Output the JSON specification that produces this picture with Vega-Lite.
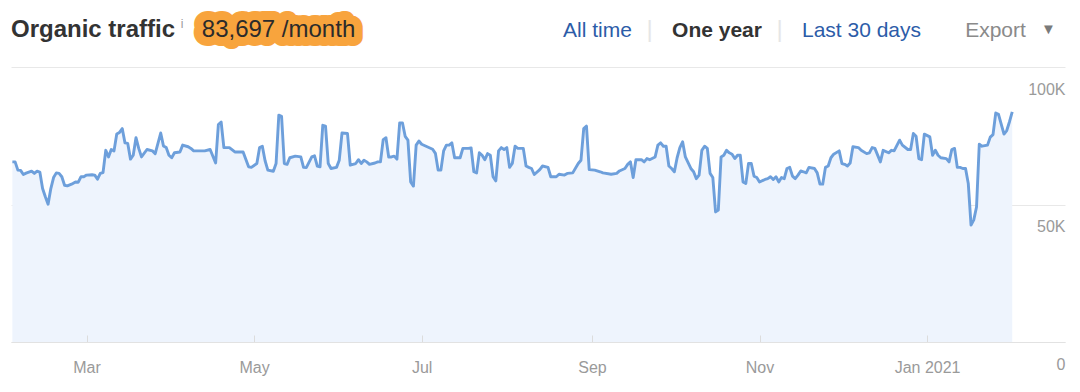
{
  "$schema": "https://vega.github.io/schema/vega-lite/v6.json",
  "padding": {"left": 10, "top": 6, "right": 14, "bottom": 4},
  "background": "white",
  "config": {"view": {"stroke": null}, "font": "Liberation Sans"},
  "spacing": 0,
  "datasets": {
    "header": [
      {"item": "title", "text": "Organic traffic"},
      {"item": "info", "text": "i"},
      {"item": "value", "text": "83,697 /month"},
      {"item": "all", "text": "All time"},
      {"item": "sep", "text": "|"},
      {"item": "year", "text": "One year"},
      {"item": "last", "text": "Last 30 days"},
      {"item": "export", "text": "Export"},
      {"item": "arrow", "text": "▼"}
    ],
    "traffic": [
      {"date":"2020-02-03","visits":65500},{"date":"2020-02-04","visits":65500},{"date":"2020-02-05","visits":62500},{"date":"2020-02-06","visits":62400},{"date":"2020-02-07","visits":60900},{"date":"2020-02-08","visits":61400},{"date":"2020-02-10","visits":62100},{"date":"2020-02-11","visits":61300},{"date":"2020-02-12","visits":62100},{"date":"2020-02-13","visits":61800},{"date":"2020-02-14","visits":55800},{"date":"2020-02-15","visits":52800},{"date":"2020-02-16","visits":50100},{"date":"2020-02-17","visits":55800},{"date":"2020-02-18","visits":59800},{"date":"2020-02-19","visits":61500},{"date":"2020-02-20","visits":61300},{"date":"2020-02-21","visits":60100},{"date":"2020-02-22","visits":57000},{"date":"2020-02-23","visits":56800},{"date":"2020-02-25","visits":57600},{"date":"2020-02-26","visits":58200},{"date":"2020-02-27","visits":58100},{"date":"2020-02-28","visits":60100},{"date":"2020-02-29","visits":60100},
      {"date":"2020-03-01","visits":60700},{"date":"2020-03-03","visits":60800},{"date":"2020-03-04","visits":60700},{"date":"2020-03-05","visits":59200},{"date":"2020-03-06","visits":61300},{"date":"2020-03-07","visits":61600},{"date":"2020-03-08","visits":69700},{"date":"2020-03-09","visits":67300},{"date":"2020-03-10","visits":70000},{"date":"2020-03-11","visits":69500},{"date":"2020-03-12","visits":75600},{"date":"2020-03-13","visits":76200},{"date":"2020-03-14","visits":77600},{"date":"2020-03-15","visits":72400},{"date":"2020-03-16","visits":72200},{"date":"2020-03-17","visits":66500},{"date":"2020-03-18","visits":67900},{"date":"2020-03-19","visits":74300},{"date":"2020-03-20","visits":70400},{"date":"2020-03-21","visits":67300},{"date":"2020-03-23","visits":70000},{"date":"2020-03-25","visits":69500},{"date":"2020-03-26","visits":68500},{"date":"2020-03-28","visits":76000},{"date":"2020-03-29","visits":71300},{"date":"2020-03-30","visits":70700},{"date":"2020-03-31","visits":67900},
      {"date":"2020-04-01","visits":67000},{"date":"2020-04-02","visits":68800},{"date":"2020-04-04","visits":69100},{"date":"2020-04-05","visits":71600},{"date":"2020-04-07","visits":71000},{"date":"2020-04-08","visits":70400},{"date":"2020-04-09","visits":69500},{"date":"2020-04-11","visits":69500},{"date":"2020-04-13","visits":69500},{"date":"2020-04-15","visits":70000},{"date":"2020-04-17","visits":65100},{"date":"2020-04-18","visits":79100},{"date":"2020-04-19","visits":80000},{"date":"2020-04-20","visits":70700},{"date":"2020-04-22","visits":70700},{"date":"2020-04-24","visits":69100},{"date":"2020-04-27","visits":69100},{"date":"2020-04-29","visits":63700},{"date":"2020-04-30","visits":63500},
      {"date":"2020-05-02","visits":64900},{"date":"2020-05-03","visits":70700},{"date":"2020-05-04","visits":71200},{"date":"2020-05-05","visits":65900},{"date":"2020-05-06","visits":62500},{"date":"2020-05-08","visits":62100},{"date":"2020-05-09","visits":64900},{"date":"2020-05-10","visits":82500},{"date":"2020-05-11","visits":82100},{"date":"2020-05-12","visits":64900},{"date":"2020-05-13","visits":64600},{"date":"2020-05-14","visits":67000},{"date":"2020-05-16","visits":67600},{"date":"2020-05-18","visits":67300},{"date":"2020-05-19","visits":63500},{"date":"2020-05-20","visits":63400},{"date":"2020-05-22","visits":67300},{"date":"2020-05-23","visits":67700},{"date":"2020-05-24","visits":64000},{"date":"2020-05-25","visits":63700},{"date":"2020-05-26","visits":78800},{"date":"2020-05-27","visits":78500},{"date":"2020-05-28","visits":64900},{"date":"2020-05-29","visits":63100},{"date":"2020-05-31","visits":63500},
      {"date":"2020-06-01","visits":66100},{"date":"2020-06-02","visits":76000},{"date":"2020-06-04","visits":75800},{"date":"2020-06-05","visits":64300},{"date":"2020-06-07","visits":64900},{"date":"2020-06-08","visits":66300},{"date":"2020-06-09","visits":64900},{"date":"2020-06-10","visits":66100},{"date":"2020-06-11","visits":65500},{"date":"2020-06-12","visits":64600},{"date":"2020-06-14","visits":65100},{"date":"2020-06-15","visits":65500},{"date":"2020-06-16","visits":65500},{"date":"2020-06-17","visits":73600},{"date":"2020-06-18","visits":74300},{"date":"2020-06-19","visits":67300},{"date":"2020-06-20","visits":67300},{"date":"2020-06-21","visits":67600},{"date":"2020-06-22","visits":66500},{"date":"2020-06-23","visits":79700},{"date":"2020-06-24","visits":79700},{"date":"2020-06-25","visits":74800},{"date":"2020-06-26","visits":73400},{"date":"2020-06-27","visits":58200},{"date":"2020-06-28","visits":56700},{"date":"2020-06-29","visits":71600},{"date":"2020-06-30","visits":73100},
      {"date":"2020-07-01","visits":71900},{"date":"2020-07-03","visits":71000},{"date":"2020-07-05","visits":70100},{"date":"2020-07-06","visits":68600},{"date":"2020-07-07","visits":62500},{"date":"2020-07-08","visits":62500},{"date":"2020-07-09","visits":69500},{"date":"2020-07-10","visits":71600},{"date":"2020-07-11","visits":71600},{"date":"2020-07-12","visits":72400},{"date":"2020-07-13","visits":67000},{"date":"2020-07-15","visits":67000},{"date":"2020-07-16","visits":70400},{"date":"2020-07-18","visits":70400},{"date":"2020-07-19","visits":70600},{"date":"2020-07-20","visits":61900},{"date":"2020-07-21","visits":61500},{"date":"2020-07-22","visits":68800},{"date":"2020-07-23","visits":67900},{"date":"2020-07-24","visits":66300},{"date":"2020-07-25","visits":68500},{"date":"2020-07-26","visits":67900},{"date":"2020-07-27","visits":60100},{"date":"2020-07-28","visits":58600},{"date":"2020-07-29","visits":69500},{"date":"2020-07-30","visits":70700},{"date":"2020-07-31","visits":70000},
      {"date":"2020-08-01","visits":70700},{"date":"2020-08-02","visits":63500},{"date":"2020-08-03","visits":64900},{"date":"2020-08-04","visits":71200},{"date":"2020-08-05","visits":70400},{"date":"2020-08-07","visits":70400},{"date":"2020-08-08","visits":64000},{"date":"2020-08-09","visits":63500},{"date":"2020-08-10","visits":63100},{"date":"2020-08-11","visits":60900},{"date":"2020-08-13","visits":62700},{"date":"2020-08-14","visits":64000},{"date":"2020-08-16","visits":63500},{"date":"2020-08-17","visits":60100},{"date":"2020-08-19","visits":60100},{"date":"2020-08-20","visits":61000},{"date":"2020-08-22","visits":60700},{"date":"2020-08-23","visits":61300},{"date":"2020-08-25","visits":61500},{"date":"2020-08-27","visits":64900},{"date":"2020-08-28","visits":66100},{"date":"2020-08-29","visits":77600},{"date":"2020-08-30","visits":78500},{"date":"2020-08-31","visits":62700},
      {"date":"2020-09-02","visits":62500},{"date":"2020-09-04","visits":61900},{"date":"2020-09-05","visits":61500},{"date":"2020-09-08","visits":61000},{"date":"2020-09-10","visits":61300},{"date":"2020-09-11","visits":62200},{"date":"2020-09-13","visits":63100},{"date":"2020-09-14","visits":64600},{"date":"2020-09-15","visits":65500},{"date":"2020-09-16","visits":59800},{"date":"2020-09-17","visits":66300},{"date":"2020-09-19","visits":66300},{"date":"2020-09-20","visits":65500},{"date":"2020-09-21","visits":66700},{"date":"2020-09-22","visits":66300},{"date":"2020-09-24","visits":67300},{"date":"2020-09-25","visits":71600},{"date":"2020-09-26","visits":72400},{"date":"2020-09-27","visits":71200},{"date":"2020-09-28","visits":71200},{"date":"2020-09-29","visits":64000},{"date":"2020-09-30","visits":63100},
      {"date":"2020-10-01","visits":61900},{"date":"2020-10-02","visits":67000},{"date":"2020-10-03","visits":70700},{"date":"2020-10-04","visits":72800},{"date":"2020-10-05","visits":67300},{"date":"2020-10-07","visits":63100},{"date":"2020-10-08","visits":61900},{"date":"2020-10-09","visits":59400},{"date":"2020-10-10","visits":60700},{"date":"2020-10-11","visits":69700},{"date":"2020-10-12","visits":71200},{"date":"2020-10-13","visits":70400},{"date":"2020-10-14","visits":61300},{"date":"2020-10-15","visits":59800},{"date":"2020-10-16","visits":47300},{"date":"2020-10-17","visits":48000},{"date":"2020-10-18","visits":67300},{"date":"2020-10-19","visits":67900},{"date":"2020-10-20","visits":69700},{"date":"2020-10-21","visits":68800},{"date":"2020-10-22","visits":68300},{"date":"2020-10-23","visits":66700},{"date":"2020-10-24","visits":67900},{"date":"2020-10-25","visits":67900},{"date":"2020-10-26","visits":58200},{"date":"2020-10-27","visits":57600},{"date":"2020-10-28","visits":64900},{"date":"2020-10-29","visits":64900},{"date":"2020-10-30","visits":60300},{"date":"2020-10-31","visits":59800},
      {"date":"2020-11-01","visits":58200},{"date":"2020-11-03","visits":59100},{"date":"2020-11-04","visits":59400},{"date":"2020-11-05","visits":60100},{"date":"2020-11-06","visits":59100},{"date":"2020-11-07","visits":60100},{"date":"2020-11-08","visits":58200},{"date":"2020-11-09","visits":59800},{"date":"2020-11-10","visits":59400},{"date":"2020-11-11","visits":63100},{"date":"2020-11-12","visits":63500},{"date":"2020-11-13","visits":60300},{"date":"2020-11-14","visits":59400},{"date":"2020-11-15","visits":60700},{"date":"2020-11-16","visits":62200},{"date":"2020-11-17","visits":61900},{"date":"2020-11-18","visits":61500},{"date":"2020-11-19","visits":63500},{"date":"2020-11-21","visits":63100},{"date":"2020-11-22","visits":61500},{"date":"2020-11-23","visits":57400},{"date":"2020-11-24","visits":57400},{"date":"2020-11-25","visits":63500},{"date":"2020-11-26","visits":64000},{"date":"2020-11-27","visits":67000},{"date":"2020-11-28","visits":68300},{"date":"2020-11-30","visits":69500},
      {"date":"2020-12-01","visits":64900},{"date":"2020-12-02","visits":64600},{"date":"2020-12-03","visits":64000},{"date":"2020-12-04","visits":65100},{"date":"2020-12-05","visits":71000},{"date":"2020-12-07","visits":70700},{"date":"2020-12-08","visits":69700},{"date":"2020-12-10","visits":68500},{"date":"2020-12-11","visits":68800},{"date":"2020-12-12","visits":70700},{"date":"2020-12-13","visits":70400},{"date":"2020-12-15","visits":65500},{"date":"2020-12-16","visits":69700},{"date":"2020-12-18","visits":68800},{"date":"2020-12-19","visits":69700},{"date":"2020-12-20","visits":69500},{"date":"2020-12-22","visits":73400},{"date":"2020-12-23","visits":71600},{"date":"2020-12-25","visits":70000},{"date":"2020-12-26","visits":70000},{"date":"2020-12-27","visits":75800},{"date":"2020-12-28","visits":74800},{"date":"2020-12-29","visits":66700},{"date":"2020-12-30","visits":66300},{"date":"2020-12-31","visits":75600},
      {"date":"2021-01-02","visits":74600},{"date":"2021-01-03","visits":67900},{"date":"2021-01-04","visits":69700},{"date":"2021-01-05","visits":67900},{"date":"2021-01-06","visits":67000},{"date":"2021-01-08","visits":66700},{"date":"2021-01-09","visits":65500},{"date":"2021-01-10","visits":70000},{"date":"2021-01-11","visits":70400},{"date":"2021-01-12","visits":63500},{"date":"2021-01-13","visits":63500},{"date":"2021-01-14","visits":63100},{"date":"2021-01-15","visits":63100},{"date":"2021-01-16","visits":57600},{"date":"2021-01-17","visits":42500},{"date":"2021-01-18","visits":44400},{"date":"2021-01-19","visits":49100},{"date":"2021-01-20","visits":71900},{"date":"2021-01-21","visits":71200},{"date":"2021-01-23","visits":71600},{"date":"2021-01-24","visits":74500},{"date":"2021-01-25","visits":75400},{"date":"2021-01-26","visits":83300},{"date":"2021-01-27","visits":82800},{"date":"2021-01-29","visits":75600},{"date":"2021-01-30","visits":76900},{"date":"2021-01-31","visits":80100},{"date":"2021-02-01","visits":83697}
    ]
  },
  "vconcat": [
    {
      "spacing": 0,
      "bounds": "flush",
      "hconcat": [
        {"width": 164, "height": 61, "data": {"name": "header"}, "transform": [{"filter": "datum.item == 'title'"}],
         "mark": {"type": "text", "align": "center", "baseline": "alphabetic", "fontSize": 24, "fontWeight": "bold", "color": "#333333"},
         "encoding": {"text": {"field": "text"}}},
        {"width": 14, "height": 61, "data": {"name": "header"}, "transform": [{"filter": "datum.item == 'info'"}],
         "mark": {"type": "text", "align": "center", "baseline": "alphabetic", "fontSize": 12, "dy": -9, "color": "#9a9a9a"},
         "encoding": {"text": {"field": "text"}}},
        {"width": 179, "height": 61, "data": {"name": "header"}, "transform": [{"filter": "datum.item == 'value'"}],
         "encoding": {"text": {"field": "text"}},
         "layer": [
           {"mark": {"type": "text", "align": "center", "baseline": "alphabetic", "fontSize": 24, "fill": "#f8a43d", "stroke": "#f8a43d", "strokeWidth": 18, "strokeJoin": "round"}},
           {"mark": {"type": "text", "align": "center", "baseline": "alphabetic", "fontSize": 24, "color": "#2b2b2b"}}
         ]},
        {"width": 182.5, "height": 61, "data": {"values": []}, "mark": "text"},
        {"width": 93, "height": 61, "data": {"name": "header"}, "transform": [{"filter": "datum.item == 'all'"}],
         "mark": {"type": "text", "align": "center", "baseline": "alphabetic", "fontSize": 21, "color": "#2c5ca8"},
         "encoding": {"text": {"field": "text"}}},
        {"width": 11, "height": 61, "data": {"name": "header"}, "transform": [{"filter": "datum.item == 'sep'"}],
         "mark": {"type": "text", "align": "center", "baseline": "alphabetic", "fontSize": 24, "color": "#e6e6e6"},
         "encoding": {"text": {"field": "text"}}},
        {"width": 124, "height": 61, "data": {"name": "header"}, "transform": [{"filter": "datum.item == 'year'"}],
         "mark": {"type": "text", "align": "center", "baseline": "alphabetic", "fontSize": 21, "fontWeight": "bold", "color": "#333333"},
         "encoding": {"text": {"field": "text"}}},
        {"width": 1, "height": 61, "data": {"name": "header"}, "transform": [{"filter": "datum.item == 'sep'"}],
         "mark": {"type": "text", "align": "center", "baseline": "alphabetic", "fontSize": 24, "color": "#e6e6e6"},
         "encoding": {"text": {"field": "text"}}},
        {"width": 163, "height": 61, "data": {"name": "header"}, "transform": [{"filter": "datum.item == 'last'"}],
         "mark": {"type": "text", "align": "center", "baseline": "alphabetic", "fontSize": 21, "color": "#2c5ca8"},
         "encoding": {"text": {"field": "text"}}},
        {"width": 105, "height": 61, "data": {"name": "header"}, "transform": [{"filter": "datum.item == 'export'"}],
         "mark": {"type": "text", "align": "center", "baseline": "alphabetic", "fontSize": 21, "color": "#8a8a8a"},
         "encoding": {"text": {"field": "text"}}},
        {"width": 1, "height": 61, "data": {"name": "header"}, "transform": [{"filter": "datum.item == 'arrow'"}],
         "mark": {"type": "text", "align": "center", "baseline": "alphabetic", "fontSize": 15, "dy": -3, "color": "#7a7a7a"},
         "encoding": {"text": {"field": "text"}}}
      ]
    },
    {
      "width": 1054,
      "height": 275,
      "data": {"name": "traffic"},
      "encoding": {
        "x": {
          "field": "date", "type": "temporal",
          "scale": {"type": "utc", "domain": [{"year": 2020, "month": 2, "date": 2, "hours": 12, "utc": true}, {"year": 2021, "month": 2, "date": 20, "hours": 5, "utc": true}]},
          "axis": {
            "title": null, "grid": false, "zindex": 1,
            "values": [{"year": 2020, "month": 3, "date": 1, "utc": true}, {"year": 2020, "month": 5, "date": 1, "utc": true}, {"year": 2020, "month": 7, "date": 1, "utc": true}, {"year": 2020, "month": 9, "date": 1, "utc": true}, {"year": 2020, "month": 11, "date": 1, "utc": true}, {"year": 2021, "month": 1, "date": 1, "utc": true}],
            "labelExpr": "utcmonth(datum.value) == 0 ? utcFormat(datum.value, '%b %Y') : utcFormat(datum.value, '%b')",
            "labelFontSize": 16, "labelColor": "#9a9a9a", "labelFlush": false, "labelOverlap": false,
            "labelPadding": 24, "tickSize": -7, "tickColor": "#dcdcdc", "domainColor": "#e2e2e2"
          }
        },
        "y": {
          "field": "visits", "type": "quantitative",
          "scale": {"domain": [0, 100000], "nice": false},
          "axis": {
            "title": null, "orient": "right", "values": [0, 50000, 100000],
            "grid": true, "gridColor": "#e8e8e8", "domain": false, "ticks": false,
            "labelAlign": "right", "labelPadding": 0, "labelBaseline": "alphabetic", "labelOffset": 27,
            "labelFontSize": 16, "labelColor": "#9a9a9a",
            "labelExpr": "datum.value == 0 ? '0' : (datum.value / 1000) + 'K'"
          }
        }
      },
      "layer": [
        {"mark": {"type": "area", "color": "#eef4fd", "opacity": 1}},
        {"mark": {"type": "line", "color": "#6d9fdb", "strokeWidth": 2.9, "strokeJoin": "round"}}
      ]
    }
  ]
}
